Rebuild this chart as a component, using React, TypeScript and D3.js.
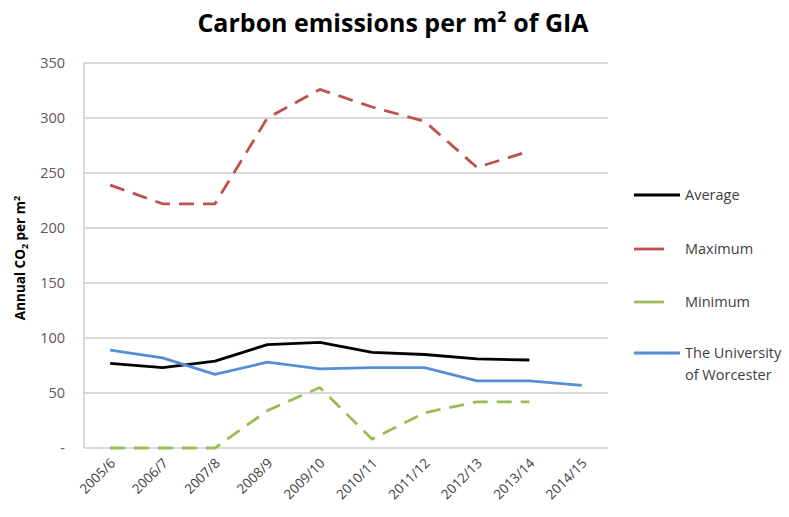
import React from "react";
import * as d3 from "d3";

const years = ["2005/6", "2006/7", "2007/8", "2008/9", "2009/10", "2010/11", "2011/12", "2012/13", "2013/14", "2014/15"];
const average = [77, 73, 79, 94, 96, 87, 85, 81, 80];
const maximum = [239, 222, 222, 300, 326, 310, 297, 255, 270];
const minimum = [0, 0, 0, 34, 55, 8, 32, 42, 42];
const worcester = [89, 82, 67, 78, 72, 73, 73, 61, 61, 57];
const yTicks = [0, 50, 100, 150, 200, 250, 300, 350];

const series = [
  { name: "Average", values: average, color: "#000000", dash: null },
  { name: "Maximum", values: maximum, color: "#c0504d", dash: "15 9" },
  { name: "Minimum", values: minimum, color: "#9bbb59", dash: "15 9" },
  { name: "The University of Worcester", values: worcester, color: "#558ed5", dash: null },
];

const W = 789;
const H = 517;
const left = 84;
const right = 608;
const top = 63;
const bottom = 448;

export default function App() {
  const x = d3.scaleBand().domain(years).range([left, right]);
  const y = d3.scaleLinear().domain([0, 350]).range([bottom, top]);
  const cx = (i: number) => (x(years[i]) as number) + x.bandwidth() / 2;
  const line = d3
    .line<number>()
    .x((_, i) => cx(i))
    .y((d) => y(d));

  const legendY = [195, 249, 302, 353];
  const font = "Open Sans, Liberation Sans, sans-serif";

  return (
    <svg width={W} height={H} style={{ position: "absolute", left: 0, top: 0, background: "#fff" }} fontFamily={font}>
      <text x={393} y={32} textAnchor="middle" fontSize={25} fontWeight="bold" fill="#000">
        Carbon emissions per m² of GIA
      </text>

      {/* grid */}
      {yTicks.map((t) => (
        <g key={t}>
          <line x1={left} x2={right} y1={y(t)} y2={y(t)} stroke="#cccccc" strokeWidth={1.5} />
          <text x={65} y={y(t) + 5} textAnchor="end" fontSize={14.5} fill="#595959">
            {t === 0 ? "-" : t}
          </text>
        </g>
      ))}
      <line x1={left} x2={left} y1={top} y2={bottom} stroke="#cccccc" strokeWidth={1.5} />

      {years.map((yr, i) => (
        <text
          key={yr}
          transform={`translate(${cx(i) + 6},${bottom + 16}) rotate(-45)`}
          textAnchor="end"
          fontSize={13.5}
          fill="#404040"
        >
          {yr}
        </text>
      ))}

      <text
        transform={`translate(25,258) rotate(-90)`}
        textAnchor="middle"
        fontSize={13.5}
        fontWeight="bold"
        fill="#000"
      >
        Annual CO<tspan fontSize={9} dy={3}>2</tspan>
        <tspan dy={-3}> per m</tspan>
        <tspan fontSize={9} dy={-5}>2</tspan>
      </text>

      {series.map((s) => (
        <path
          key={s.name}
          d={line(s.values) ?? ""}
          fill="none"
          stroke={s.color}
          strokeWidth={2.8}
          strokeDasharray={s.dash ?? undefined}
          strokeLinejoin="round"
        />
      ))}

      {/* legend */}
      {series.map((s, i) => (
        <g key={s.name}>
          <line
            x1={634}
            x2={s.dash ? 664 : 680}
            y1={legendY[i]}
            y2={legendY[i]}
            stroke={s.color}
            strokeWidth={2.8}
          />
          {s.name === "The University of Worcester" ? (
            <text x={685} y={legendY[i] + 5} fontSize={14.5} fill="#404040">
              <tspan x={685}>The University</tspan>
              <tspan x={685} dy={22}>of Worcester</tspan>
            </text>
          ) : (
            <text x={685} y={legendY[i] + 5} fontSize={14.5} fill="#404040">
              {s.name}
            </text>
          )}
        </g>
      ))}
    </svg>
  );
}
